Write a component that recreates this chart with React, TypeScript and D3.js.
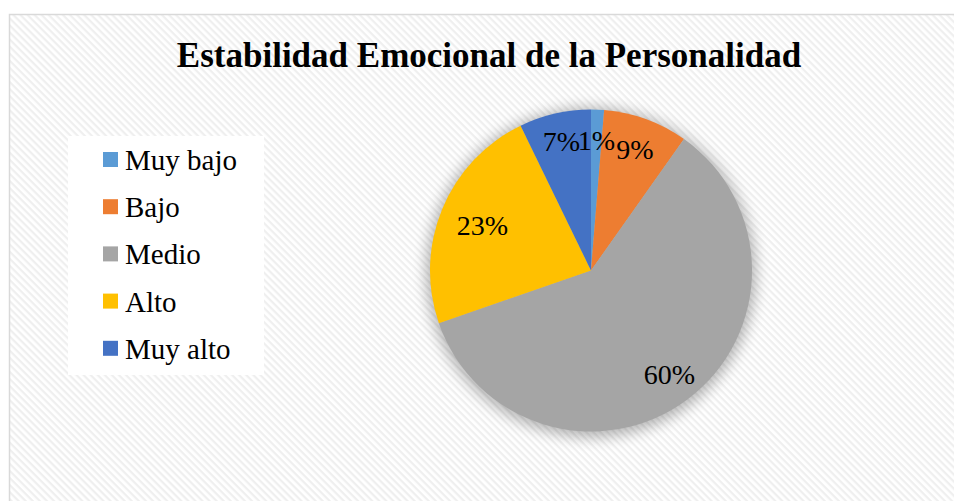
import React from "react";
import * as d3 from "d3";

const categories = ["Muy bajo", "Bajo", "Medio", "Alto", "Muy alto"];
const values = [1.3, 8.5, 59.9, 23.1, 7.2];
const colors = ["#5B9BD5", "#ED7D31", "#A5A5A5", "#FFC000", "#4472C4"];
const title = "Estabilidad Emocional de la Personalidad";

const W = 954;
const H = 501;
const cx = 591;
const cy = 270.5;
const R = 161;

export default function App() {
  const pie = d3.pie<number>().sort(null).value((d) => d);
  const arcs = pie(values);
  const arc = d3.arc<d3.PieArcDatum<number>>().innerRadius(0).outerRadius(R);
  const labelRadius = [0.81, 0.8, 0.81, 0.73, 0.82];
  const font = "'Liberation Serif', 'Times New Roman', serif";
  return (
    <svg
      width={W}
      height={H}
      style={{ position: "absolute", left: 0, top: 0, display: "block" }}
    >
      <defs>
        <pattern
          id="hatch"
          patternUnits="userSpaceOnUse"
          width={5}
          height={5}
          patternTransform="rotate(45)"
        >
          <rect width={5} height={5} fill="#ffffff" />
          <rect x={0} y={0} width={5} height={2.2} fill="#efefef" />
        </pattern>
        <filter id="glow" x="-30%" y="-30%" width="160%" height="160%">
          <feGaussianBlur stdDeviation="7" />
        </filter>
      </defs>
      <rect width={W} height={H} fill="#ffffff" />
      <rect
        x={9.5}
        y={14.5}
        width={W + 20}
        height={H + 20}
        fill="url(#hatch)"
        stroke="#d9d9d9"
        strokeWidth={1.5}
      />
      <text
        x={489}
        y={67}
        textAnchor="middle"
        fontFamily={font}
        fontWeight="bold"
        fontSize={35}
        fill="#000"
      >
        {title}
      </text>
      <rect x={68} y={136} width={196} height={239} fill="#ffffff" />
      {categories.map((c, i) => (
        <g key={c}>
          <rect x={103} y={152 + i * 47.2} width={15} height={15} fill={colors[i]} />
          <text
            x={125}
            y={170 + i * 47.2}
            fontFamily={font}
            fontSize={29}
            fill="#000"
          >
            {c}
          </text>
        </g>
      ))}
      <circle cx={cx} cy={cy + 2} r={R + 4} fill="#000" opacity={0.28} filter="url(#glow)" />
      <g transform={`translate(${cx},${cy})`}>
        {arcs.map((a, i) => (
          <path key={i} d={arc(a) || ""} fill={colors[i]} />
        ))}
        {arcs.map((a, i) => {
          const mid = (a.startAngle + a.endAngle) / 2;
          const r = R * labelRadius[i];
          const x = Math.sin(mid) * r;
          const y = -Math.cos(mid) * r;
          return (
            <text
              key={"l" + i}
              x={x}
              y={y}
              textAnchor="middle"
              dominantBaseline="central"
              fontFamily={font}
              fontSize={28}
              fill="#000"
            >
              {Math.round(values[i]) + "%"}
            </text>
          );
        })}
      </g>
    </svg>
  );
}
